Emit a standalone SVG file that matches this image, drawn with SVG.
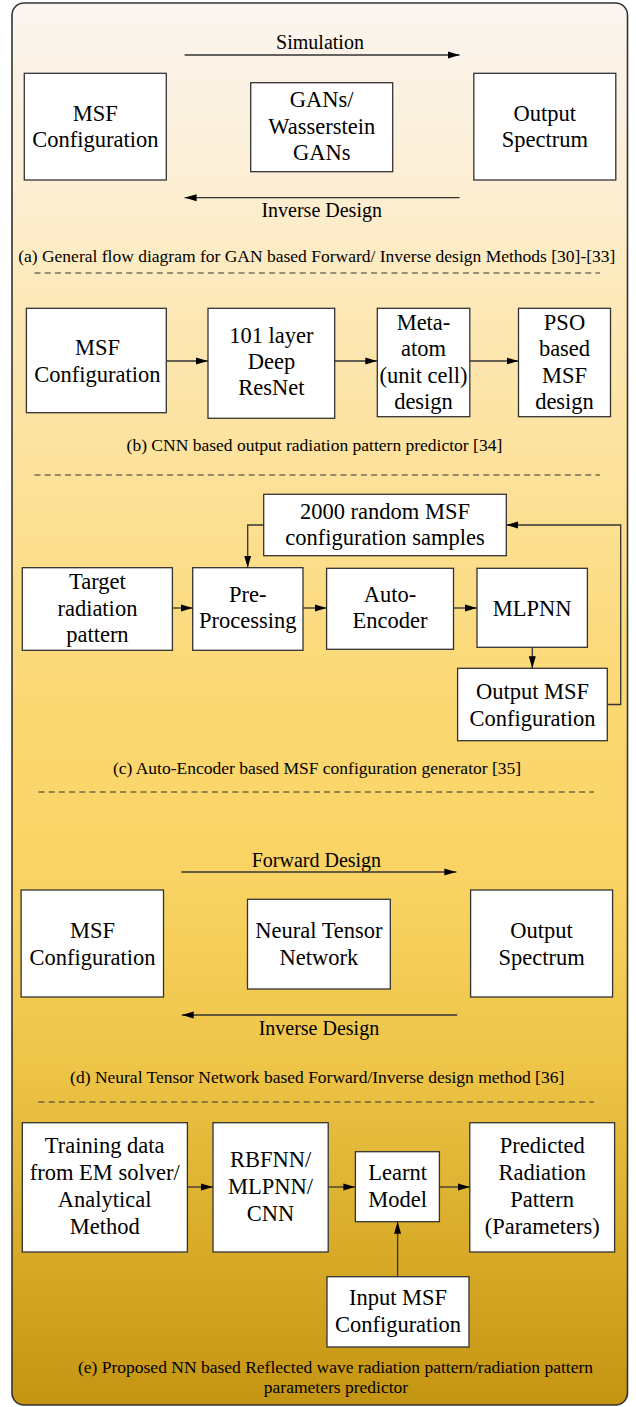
<svg xmlns="http://www.w3.org/2000/svg" width="636" height="1407" viewBox="0 0 636 1407">
  <defs>
    <linearGradient id="panelFill" gradientUnits="userSpaceOnUse" x1="0" y1="3" x2="0" y2="1405">
      <stop offset="0" stop-color="#FBF5F0"/>
      <stop offset="0.12" stop-color="#FCEFD6"/>
      <stop offset="0.22" stop-color="#FDE8B6"/>
      <stop offset="0.36" stop-color="#FCE094"/>
      <stop offset="0.5" stop-color="#FBD872"/>
      <stop offset="0.63" stop-color="#F9D362"/>
      <stop offset="0.76" stop-color="#EDC447"/>
      <stop offset="0.88" stop-color="#D9AC2A"/>
      <stop offset="1" stop-color="#C49512"/>
    </linearGradient>
    <marker id="arrow" markerUnits="userSpaceOnUse" markerWidth="12" markerHeight="8" refX="12" refY="4" orient="auto">
      <path d="M0,0.5 L12,4 L0,7.5 z" fill="#000"/>
    </marker>
    <style>
      .box { fill: #fff; stroke: #333; stroke-width: 1.3; }
      .t { font-family: "Liberation Serif", "Times New Roman", serif; font-size: 22.5px; fill: #000; text-anchor: middle; }
      .lbl { font-family: "Liberation Serif", "Times New Roman", serif; font-size: 20px; fill: #000; text-anchor: middle; }
      .cap { font-family: "Liberation Serif", "Times New Roman", serif; font-size: 17.5px; fill: #000; text-anchor: middle; }
      .link { fill: none; stroke: #333; stroke-width: 1.3; marker-end: url(#arrow); }
      .sep { fill: none; stroke: #333; stroke-width: 1; stroke-dasharray: 6 4.2; }
    </style>
  </defs>

  <!-- outer panel -->
  <rect x="12" y="3" width="615.5" height="1402" rx="12" ry="12" fill="url(#panelFill)" stroke="#333" stroke-width="1.6"/>

  <!-- section separators -->
  <g id="separators">
    <line class="sep" x1="34.5" y1="273" x2="600" y2="273"/>
    <line class="sep" x1="34.5" y1="475" x2="600" y2="475"/>
    <line class="sep" x1="38.5" y1="792" x2="594" y2="792"/>
    <line class="sep" x1="38.5" y1="1102" x2="594" y2="1102"/>
  </g>

  <!-- captions and arrow labels -->
  <g id="captions">
    <text class="lbl" x="320" y="49">Simulation</text>
    <text class="lbl" x="321.7" y="217">Inverse Design</text>
    <text class="cap" x="316.8" y="262">(a) General flow diagram for GAN based Forward/ Inverse design Methods [30]-[33]</text>
    <text class="cap" x="314.4" y="451">(b) CNN based output radiation pattern predictor [34]</text>
    <text class="cap" x="317" y="774">(c) Auto-Encoder based MSF configuration generator [35]</text>
    <text class="lbl" x="316.4" y="867">Forward Design</text>
    <text class="lbl" x="318.9" y="1035">Inverse Design</text>
    <text class="cap" x="317.2" y="1083">(d) Neural Tensor Network based Forward/Inverse design method [36]</text>
    <text class="cap" x="335.5" y="1373">(e) Proposed NN based Reflected wave radiation pattern/radiation pattern</text>
    <text class="cap" x="336" y="1393">parameters predictor</text>
  </g>

  <!-- (a) GAN based forward / inverse design -->
  <g id="a-msf">
    <rect class="box" x="24.3" y="73.3" width="142" height="106.7"/>
    <text class="t" x="95.3" y="120.5">MSF</text>
    <text class="t" x="95.3" y="147">Configuration</text>
  </g>
  <g id="a-gan">
    <rect class="box" x="250.7" y="82.7" width="142" height="89"/>
    <text class="t" x="321.7" y="107">GANs/</text>
    <text class="t" x="321.7" y="133.5">Wasserstein</text>
    <text class="t" x="321.7" y="160">GANs</text>
  </g>
  <g id="a-out">
    <rect class="box" x="473.8" y="73.3" width="142" height="106.7"/>
    <text class="t" x="544.8" y="120.5">Output</text>
    <text class="t" x="544.8" y="147">Spectrum</text>
  </g>

  <!-- (b) CNN based predictor -->
  <g id="b-msf">
    <rect class="box" x="26.4" y="308.3" width="139.9" height="104.4"/>
    <text class="t" x="97.4" y="355">MSF</text>
    <text class="t" x="97.4" y="381.5">Configuration</text>
  </g>
  <g id="b-resnet">
    <rect class="box" x="208" y="308.3" width="126.7" height="110"/>
    <text class="t" x="271.4" y="343">101 layer</text>
    <text class="t" x="271.4" y="369">Deep</text>
    <text class="t" x="271.4" y="395">ResNet</text>
  </g>
  <g id="b-meta">
    <rect class="box" x="377.3" y="308.3" width="92.5" height="108.4"/>
    <text class="t" x="423.5" y="329.5">Meta-</text>
    <text class="t" x="423.5" y="356">atom</text>
    <text class="t" x="423.5" y="382.5">(unit cell)</text>
    <text class="t" x="423.5" y="409">design</text>
  </g>
  <g id="b-pso">
    <rect class="box" x="518.5" y="308.3" width="92" height="108.4"/>
    <text class="t" x="564.5" y="329.5">PSO</text>
    <text class="t" x="564.5" y="356">based</text>
    <text class="t" x="564.5" y="382.5">MSF</text>
    <text class="t" x="564.5" y="409">design</text>
  </g>

  <!-- (c) Auto-Encoder based generator -->
  <g id="c-samples">
    <rect class="box" x="263.7" y="494.3" width="242.6" height="61.4"/>
    <text class="t" x="385" y="518.5">2000 random MSF</text>
    <text class="t" x="385" y="545">configuration samples</text>
  </g>
  <g id="c-target">
    <rect class="box" x="22.3" y="567.7" width="150.1" height="82.6"/>
    <text class="t" x="97.4" y="589">Target</text>
    <text class="t" x="97.4" y="615.5">radiation</text>
    <text class="t" x="97.4" y="642">pattern</text>
  </g>
  <g id="c-pre">
    <rect class="box" x="192.7" y="567.7" width="110.3" height="82.6"/>
    <text class="t" x="247.8" y="602">Pre-</text>
    <text class="t" x="247.8" y="628">Processing</text>
  </g>
  <g id="c-ae">
    <rect class="box" x="326.6" y="568.3" width="126.9" height="81"/>
    <text class="t" x="390" y="602">Auto-</text>
    <text class="t" x="390" y="628">Encoder</text>
  </g>
  <g id="c-mlp">
    <rect class="box" x="477" y="568.3" width="110.4" height="79"/>
    <text class="t" x="532.2" y="616">MLPNN</text>
  </g>
  <g id="c-out">
    <rect class="box" x="457.6" y="668.3" width="149.7" height="72.4"/>
    <text class="t" x="532.5" y="698.5">Output MSF</text>
    <text class="t" x="532.5" y="725.5">Configuration</text>
  </g>

  <!-- (d) Neural Tensor Network -->
  <g id="d-msf">
    <rect class="box" x="21.1" y="890" width="142.4" height="107"/>
    <text class="t" x="92.5" y="938">MSF</text>
    <text class="t" x="92.5" y="965">Configuration</text>
  </g>
  <g id="d-ntn">
    <rect class="box" x="247.5" y="899.3" width="142.8" height="89.7"/>
    <text class="t" x="318.9" y="938">Neural Tensor</text>
    <text class="t" x="318.9" y="965">Network</text>
  </g>
  <g id="d-out">
    <rect class="box" x="470.6" y="890" width="142" height="107"/>
    <text class="t" x="541.6" y="938">Output</text>
    <text class="t" x="541.6" y="965">Spectrum</text>
  </g>

  <!-- (e) Proposed predictor -->
  <g id="e-train">
    <rect class="box" x="22.3" y="1122.7" width="165.1" height="129.3"/>
    <text class="t" x="104.7" y="1153">Training data</text>
    <text class="t" x="104.7" y="1180">from EM solver/</text>
    <text class="t" x="104.7" y="1207">Analytical</text>
    <text class="t" x="104.7" y="1233.5">Method</text>
  </g>
  <g id="e-nn">
    <rect class="box" x="213" y="1122.7" width="115.2" height="129.3"/>
    <text class="t" x="270.6" y="1167">RBFNN/</text>
    <text class="t" x="270.6" y="1194">MLPNN/</text>
    <text class="t" x="270.6" y="1221">CNN</text>
  </g>
  <g id="e-model">
    <rect class="box" x="355.4" y="1151.7" width="84" height="70"/>
    <text class="t" x="397.6" y="1180">Learnt</text>
    <text class="t" x="397.6" y="1207">Model</text>
  </g>
  <g id="e-pred">
    <rect class="box" x="469.8" y="1122.7" width="144.8" height="129.3"/>
    <text class="t" x="542.2" y="1153">Predicted</text>
    <text class="t" x="542.2" y="1180">Radiation</text>
    <text class="t" x="542.2" y="1207">Pattern</text>
    <text class="t" x="542.2" y="1233.5">(Parameters)</text>
  </g>
  <g id="e-input">
    <rect class="box" x="327" y="1276.7" width="142" height="70.3"/>
    <text class="t" x="398" y="1305">Input MSF</text>
    <text class="t" x="398" y="1332">Configuration</text>
  </g>

  <!-- connectors -->
  <g id="connectors">
    <!-- (a) -->
    <line class="link" x1="184.6" y1="55" x2="459.6" y2="55"/>
    <line class="link" x1="459.6" y1="197.7" x2="184.6" y2="197.7"/>
    <!-- (b) -->
    <line class="link" x1="166.3" y1="361" x2="208" y2="361"/>
    <line class="link" x1="334.7" y1="361" x2="377.3" y2="361"/>
    <line class="link" x1="469.8" y1="361" x2="518.5" y2="361"/>
    <!-- (c) -->
    <path class="link" d="M263.7,525 H247.7 V567.7"/>
    <line class="link" x1="172.4" y1="608" x2="192.7" y2="608"/>
    <line class="link" x1="303" y1="608" x2="326.6" y2="608"/>
    <line class="link" x1="453.5" y1="608" x2="477" y2="608"/>
    <line class="link" x1="532.3" y1="647.3" x2="532.3" y2="668.3"/>
    <path class="link" d="M607.3,704.5 H620.7 V525 H506.3"/>
    <!-- (d) -->
    <line class="link" x1="181.3" y1="872" x2="456.4" y2="872"/>
    <line class="link" x1="457.2" y1="1015" x2="181.7" y2="1015"/>
    <!-- (e) -->
    <line class="link" x1="187.4" y1="1187" x2="213" y2="1187"/>
    <line class="link" x1="328.2" y1="1187" x2="355.4" y2="1187"/>
    <line class="link" x1="439.4" y1="1187" x2="469.8" y2="1187"/>
    <line class="link" x1="397.6" y1="1276.7" x2="397.6" y2="1221.7"/>
  </g>
</svg>
